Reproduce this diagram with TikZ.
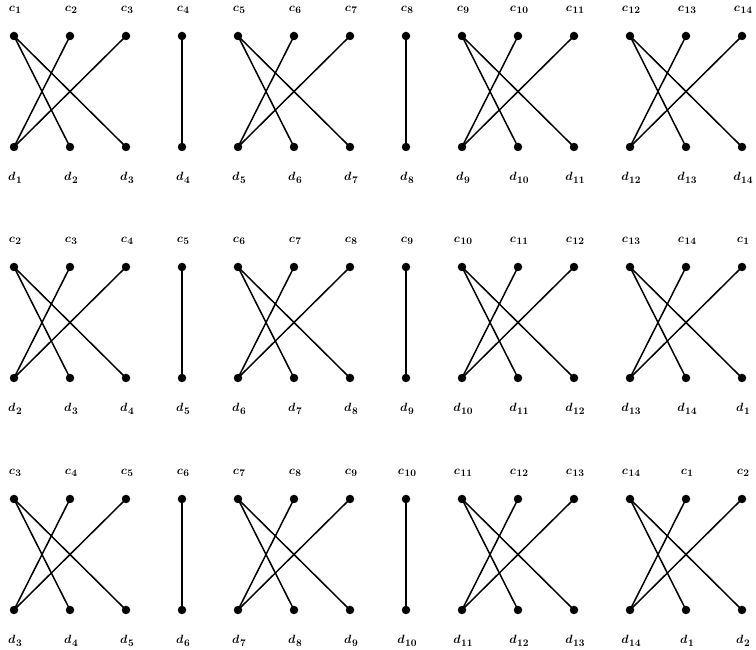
\documentclass[tikz,border=0pt]{standalone}
\newcommand{\mylab}[2]{$#1$\kern0.5pt\raisebox{-2.5pt}{\fontsize{10}{12}\selectfont\boldmath$#2$}}
\begin{document}
\begin{tikzpicture}[x=1pt,y=1pt,
  dot/.style={circle,fill=black,inner sep=0pt,minimum size=8.5pt},
  lab/.style={font=\fontsize{13}{15}\selectfont\boldmath,inner sep=0pt},
  edge/.style={line width=1.5pt}]
\useasboundingbox (0,0) rectangle (756,650);
\foreach \r/\yt/\yb in {0/36/147, 1/267/378, 2/499/610} {
  \foreach \k in {1,...,14} {
    \pgfmathsetmacro\xx{14+56*(\k-1)}
    \pgfmathtruncatemacro\idx{mod(\k-1+\r,14)+1}
    \node[dot] (t\r-\k) at (\xx, 650-\yt) {};
    \node[dot] (b\r-\k) at (\xx, 650-\yb) {};
    \node[lab] (lc\r-\k) at (\xx+1, 650-\yt+26) {\mylab{c}{\idx}};
    \node[lab] (ld\r-\k) at (\xx+1, 650-\yb-31) {\mylab{d}{\idx}};
  }
}
\foreach \r in {0,1,2} {
  \foreach \a/\b/\c in {1/2/3, 5/6/7, 9/10/11, 12/13/14} {
    \draw[edge] (t\r-\a.center) -- (b\r-\b.center);
    \draw[edge] (t\r-\a.center) -- (b\r-\c.center);
    \draw[edge] (b\r-\a.center) -- (t\r-\b.center);
    \draw[edge] (b\r-\a.center) -- (t\r-\c.center);
  }
  \foreach \a in {4,8} {
    \draw[edge] (t\r-\a.center) -- (b\r-\a.center);
  }
}
\end{tikzpicture}
\end{document}
